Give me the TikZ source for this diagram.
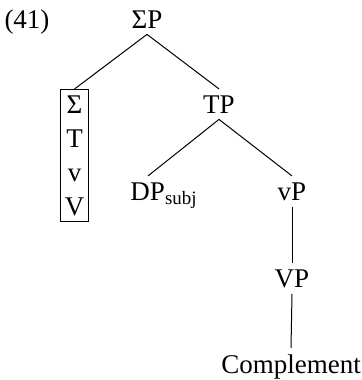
\documentclass[tikz,border=0pt]{standalone}
\usepackage{fontspec}
\setmainfont{Liberation Serif}
\usepackage{tikz}

\begin{document}
\begin{tikzpicture}[x=0.5pt,y=-0.5pt,font=\fontsize{13.5}{17}\selectfont,
  cat/.style={inner sep=3pt,anchor=base},
  branch/.style={black,line width=0.5pt}]

\useasboundingbox (0,0) rectangle (362,380);

\node[cat] (num) at (27,28) {(41)};
\node[cat] (sigmap) at (147,28) {ΣP};
\node[draw,line width=0.6pt,align=center,inner xsep=2pt,inner ysep=3pt,anchor=north] (heads) at (74.5,89) {Σ\\T\\v\\V};
\node[cat] (tp) at (219,113) {TP};
\node[cat] (dp) at (164,200) {DP\textsubscript{subj}};
\node[cat] (vp) at (292,200) {vP};
\node[cat] (bigvp) at (292,287) {VP};
\node[cat] (compl) at (291,373) {Complement};

\draw[branch] (sigmap.south) -- (heads.north);
\draw[branch] (sigmap.south) -- (tp.north);
\draw[branch] (tp.south) -- ([xshift=-8pt]dp.north);
\draw[branch] (tp.south) -- (vp.north);
\draw[branch] (vp.south) -- (bigvp.north);
\draw[branch] (bigvp.south) -- (compl.north);
\end{tikzpicture}
\end{document}
